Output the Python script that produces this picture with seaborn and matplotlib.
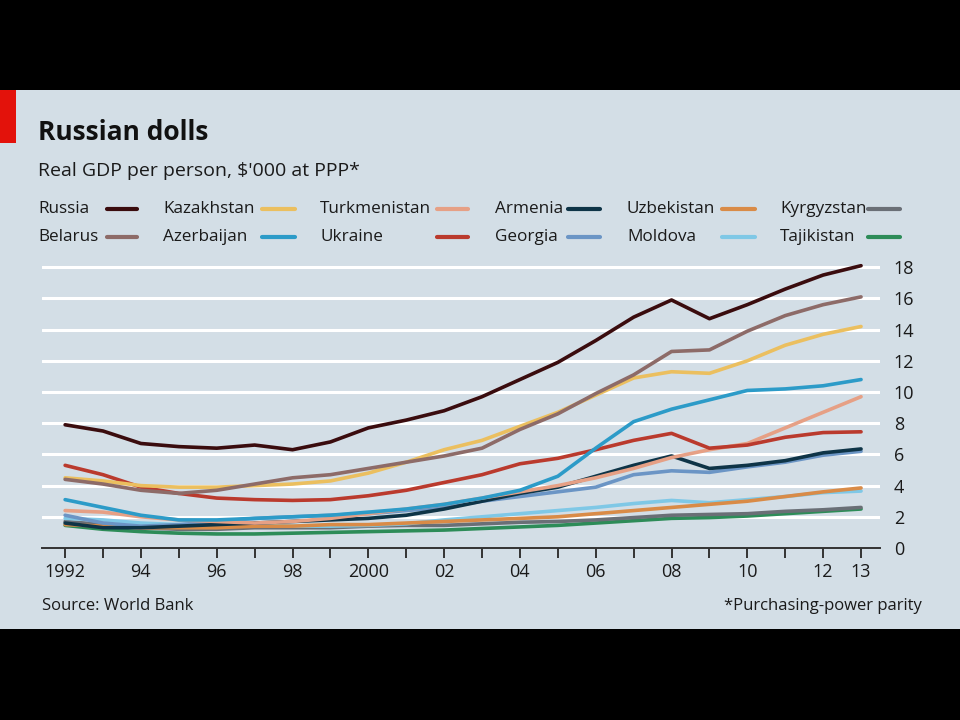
import numpy as np
import pandas as pd
import matplotlib
matplotlib.use("Agg")
import matplotlib.pyplot as plt
from matplotlib.lines import Line2D
from matplotlib.patches import Rectangle
import seaborn as sns

# datos (miles de USD PPP por persona)
years = list(range(1992, 2014))

russia = [7.9, 7.5, 6.7, 6.5, 6.4, 6.6, 6.3, 6.8, 7.7, 8.2, 8.8, 9.7,
          10.8, 11.9, 13.3, 14.8, 15.9, 14.7, 15.6, 16.6, 17.5, 18.1]
belarus = [4.4, 4.1, 3.7, 3.5, 3.7, 4.1, 4.5, 4.7, 5.1, 5.5, 5.9, 6.4,
           7.6, 8.6, 9.9, 11.1, 12.6, 12.7, 13.9, 14.9, 15.6, 16.1]
kazakhstan = [4.5, 4.3, 4.0, 3.9, 3.9, 4.0, 4.1, 4.3, 4.8, 5.5, 6.3, 6.9,
              7.8, 8.7, 9.8, 10.9, 11.3, 11.2, 12.0, 13.0, 13.7, 14.2]
azerbaijan = [3.1, 2.6, 2.1, 1.8, 1.8, 1.9, 2.0, 2.1, 2.3, 2.5, 2.8, 3.2,
              3.7, 4.6, 6.4, 8.1, 8.9, 9.5, 10.1, 10.2, 10.4, 10.8]
turkmenistan = [2.4, 2.3, 2.0, 1.8, 1.7, 1.6, 1.7, 1.9, 2.2, 2.5, 2.8, 3.2,
                3.6, 4.0, 4.5, 5.1, 5.8, 6.3, 6.7, 7.7, 8.7, 9.7]
ukraine = [5.3, 4.7, 3.9, 3.5, 3.2, 3.1, 3.05, 3.1, 3.35, 3.7, 4.2, 4.7,
           5.4, 5.75, 6.3, 6.9, 7.35, 6.4, 6.6, 7.1, 7.4, 7.45]
armenia = [1.6, 1.3, 1.3, 1.4, 1.5, 1.6, 1.7, 1.8, 1.9, 2.1, 2.5, 3.0,
           3.5, 3.9, 4.6, 5.3, 5.9, 5.1, 5.3, 5.6, 6.1, 6.35]
georgia = [2.1, 1.6, 1.4, 1.5, 1.7, 1.9, 2.0, 2.1, 2.2, 2.4, 2.6, 3.0,
           3.3, 3.6, 3.9, 4.7, 4.95, 4.85, 5.2, 5.5, 5.95, 6.2]
uzbekistan = [1.5, 1.4, 1.3, 1.3, 1.3, 1.4, 1.4, 1.5, 1.5, 1.6, 1.7, 1.8,
              1.9, 2.0, 2.2, 2.4, 2.6, 2.8, 3.0, 3.3, 3.6, 3.85]
moldova = [1.9, 1.8, 1.6, 1.5, 1.5, 1.5, 1.4, 1.4, 1.45, 1.55, 1.8, 2.0,
           2.2, 2.4, 2.6, 2.85, 3.05, 2.9, 3.1, 3.3, 3.55, 3.65]
kyrgyzstan = [1.7, 1.5, 1.3, 1.2, 1.2, 1.3, 1.3, 1.3, 1.4, 1.45, 1.45, 1.55,
              1.65, 1.7, 1.8, 1.95, 2.1, 2.15, 2.2, 2.35, 2.45, 2.6]
tajikistan = [1.45, 1.2, 1.05, 0.95, 0.9, 0.9, 0.95, 1.0, 1.05, 1.1, 1.15, 1.25,
              1.35, 1.45, 1.6, 1.75, 1.9, 1.95, 2.05, 2.2, 2.35, 2.5]

# orden de la leyenda (fila 1 y fila 2)
fila1 = ["Russia", "Kazakhstan", "Turkmenistan", "Armenia", "Uzbekistan", "Kyrgyzstan"]
fila2 = ["Belarus", "Azerbaijan", "Ukraine", "Georgia", "Moldova", "Tajikistan"]

series = {
    "Russia": russia, "Belarus": belarus, "Kazakhstan": kazakhstan,
    "Azerbaijan": azerbaijan, "Turkmenistan": turkmenistan, "Ukraine": ukraine,
    "Armenia": armenia, "Georgia": georgia, "Uzbekistan": uzbekistan,
    "Moldova": moldova, "Kyrgyzstan": kyrgyzstan, "Tajikistan": tajikistan,
}

colores = {
    "Russia": "#3a0c0e", "Kazakhstan": "#ebbf5f", "Turkmenistan": "#e6a085",
    "Armenia": "#0e3447", "Uzbekistan": "#d98b47", "Kyrgyzstan": "#6a6f76",
    "Belarus": "#8d6b68", "Azerbaijan": "#2c9bc8", "Ukraine": "#ba3a2d",
    "Georgia": "#6b95c5", "Moldova": "#7fc8e6", "Tajikistan": "#2d8c58",
}

x_labels = ["1992", "94", "96", "98", "2000", "02", "04", "06", "08", "10", "12", "13"]
x_label_years = [1992, 1994, 1996, 1998, 2000, 2002, 2004, 2006, 2008, 2010, 2012, 2013]

df = pd.DataFrame(
    [(pais, y, v) for pais, vals in series.items() for y, v in zip(years, vals)],
    columns=["pais", "anio", "valor"],
)

# estilo
sns.set_theme(style="white")
plt.rcParams["font.family"] = ["Open Sans", "DejaVu Sans"]
fondo = "#d3dee6"
texto = "#1a1a1a"

fig = plt.figure(figsize=(9.6, 7.2), dpi=100, facecolor="black")
fig.add_artist(Rectangle((0, (720 - 629) / 720), 1, (629 - 90) / 720,
                         transform=fig.transFigure, facecolor=fondo, edgecolor="none", zorder=0))
fig.add_artist(Rectangle((0, (720 - 143) / 720), 16 / 960, 53 / 720,
                         transform=fig.transFigure, facecolor="#e3120b", edgecolor="none", zorder=1))

ax = fig.add_axes([42 / 960, (720 - 548) / 720, (880 - 42) / 960, (548 - 261) / 720])
ax.set_facecolor(fondo)

orden_dibujo = ["Tajikistan", "Kyrgyzstan", "Moldova", "Uzbekistan", "Georgia", "Armenia",
                "Turkmenistan", "Ukraine", "Azerbaijan", "Kazakhstan", "Belarus", "Russia"]
sns.lineplot(data=df, x="anio", y="valor", hue="pais", hue_order=orden_dibujo,
             palette=colores, linewidth=2.6, legend=False, ax=ax)

ax.set_xlim(1991.39, 2013.5)
ax.set_ylim(0, 18.4)
ax.set_yticks(range(0, 19, 2))
ax.yaxis.tick_right()
ax.tick_params(axis="y", length=0, pad=10, labelsize=13, labelcolor=texto)
for v in range(2, 19, 2):
    ax.axhline(v, color="white", linewidth=2.2, zorder=0.5)

ax.set_xticks(years, minor=True)
ax.set_xticks(x_label_years)
ax.set_xticklabels(x_labels)
ax.tick_params(axis="x", which="both", bottom=True, direction="out", length=7, width=1.4,
               color="#333333", pad=4, labelsize=13, labelcolor=texto)
ax.set_xlabel("")
ax.set_ylabel("")
for lado in ["top", "right", "left"]:
    ax.spines[lado].set_visible(False)
ax.spines["bottom"].set_color("#333333")
ax.spines["bottom"].set_linewidth(1.4)

# titulos
fig.text(38 / 960, 1 - 133 / 720, "Russian dolls", fontsize=19, fontweight="bold",
         color="#111111", va="center")
fig.text(38 / 960, 1 - 171 / 720, "Real GDP per person, $'000 at PPP*", fontsize=14,
         color=texto, va="center")

# leyenda manual
texto_x = [38, 163, 320, 495, 627, 780]
linea_x = [(107, 137), (262, 295), (437, 468), (568, 600), (722, 755), (868, 900)]
for fila, y_px in [(fila1, 209), (fila2, 237)]:
    for i, pais in enumerate(fila):
        fig.text(texto_x[i] / 960, 1 - y_px / 720, pais, fontsize=12.3, color=texto, va="center")
        x0, x1 = linea_x[i]
        fig.add_artist(Line2D([x0 / 960, x1 / 960], [1 - y_px / 720] * 2,
                              transform=fig.transFigure, color=colores[pais], linewidth=3))

fig.text(42 / 960, 1 - 606 / 720, "Source: World Bank", fontsize=12, color=texto, va="center")
fig.text(922 / 960, 1 - 606 / 720, "*Purchasing-power parity", fontsize=12, color=texto,
         va="center", ha="right")

fig.savefig("out.png", dpi=100, facecolor="black")
